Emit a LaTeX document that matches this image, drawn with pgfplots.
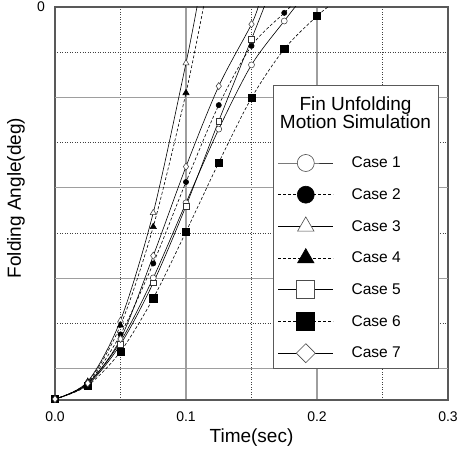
\documentclass[border=0pt]{standalone}
\usepackage{pgfplots}
\pgfplotsset{compat=1.18}
\usepackage{fontspec}
\setmainfont{Liberation Sans}
\begin{document}
\begin{tikzpicture}
\begin{axis}[
  width=393pt, height=393pt, scale only axis,
  xmin=0, xmax=0.3, ymin=-86.9, ymax=0,
  xtick={0,0.1,0.2,0.3}, xticklabels={0.0,0.1,0.2,0.3},
  minor xtick={0.05,0.15,0.25},
  ytick={0}, yticklabels={0},
  extra y ticks={-20,-40,-60,-80}, extra y tick labels={},
  extra y tick style={grid=major},
  minor ytick={-10,-30,-50,-70},
  grid=both,
  major grid style={draw=black!38, line width=1.2pt},
  minor grid style={draw=black!75, line width=0.5pt, dotted},
  major tick length=0pt, minor tick length=0pt,
  axis line style={draw=black!65, line width=1.3pt},
  tick label style={font=\fontsize{14}{14}\selectfont},
  xticklabel style={anchor=base, inner sep=0pt, yshift=-21pt},
  yticklabel style={anchor=base east, inner sep=0pt, xshift=-10pt, yshift=-5pt},
  xlabel={Time(sec)},
  ylabel={Folding Angle(deg)},
  every axis x label/.style={at={(rel axis cs:0.5,-0.1069)}, anchor=base, font=\fontsize{19}{19}\selectfont},
  every axis y label/.style={at={(rel axis cs:-0.0992,0.514)}, rotate=90, anchor=center, font=\fontsize{19}{19}\selectfont},
  legend cell align=left,
  legend style={at={(rel axis cs:0.5674,0.6434)}, anchor=north west, draw=none, fill=none,
    inner sep=0pt, outer sep=0pt, row sep=0pt, column sep=18pt,
    font=\fontsize{15.5}{15.5}\selectfont, nodes={inner sep=0pt}},
  legend image code/.code={
    \path[draw=none, fill=none] (0pt,-15.85pt) rectangle (55pt,15.85pt);
    \draw[mark repeat=2, mark phase=2, #1] plot coordinates {(0pt,0pt) (27.5pt,0pt) (55pt,0pt)};
  },
]
% Case 1
\addplot[forget plot, black, line width=0.6pt, smooth, mark=*, mark size=3pt,
  mark options={solid, fill=white, draw=black!80, line width=0.5pt}, mark indices={1,2,3,4,5,6,7,8}]
  coordinates {(0,-86.7) (0.025,-83.3) (0.05,-74.0) (0.075,-59.9) (0.1,-43.3) (0.125,-27.0) (0.15,-12.8) (0.175,-3.1) (0.186,1)};
% Case 2
\addplot[forget plot, black, line width=0.6pt, dash pattern=on 3pt off 2pt, smooth, mark=*, mark size=2.6pt,
  mark options={solid, fill=black}, mark indices={1,2,3,4,5,6,7,8}]
  coordinates {(0,-86.7) (0.025,-83.1) (0.05,-72.4) (0.075,-56.7) (0.1,-38.7) (0.125,-21.7) (0.15,-8.6) (0.175,-1.3) (0.183,1)};
% Case 3
\addplot[forget plot, black, line width=0.6pt, smooth, mark=triangle*, mark size=3.5pt,
  mark options={solid, fill=white, draw=black!80, line width=0.5pt}, mark indices={1,2,3,4,5}]
  coordinates {(0,-86.7) (0.025,-82.8) (0.05,-69.3) (0.075,-45.5) (0.1,-12.4) (0.109,1)};
% Case 4
\addplot[forget plot, black, line width=0.6pt, dash pattern=on 3pt off 2pt, smooth, mark=triangle*, mark size=3.6pt,
  mark options={solid, fill=black}, mark indices={1,2,3,4,5}]
  coordinates {(0,-86.7) (0.025,-82.9) (0.05,-70.4) (0.075,-48.6) (0.1,-19.0) (0.114,1)};
% Case 5
\addplot[forget plot, black, line width=0.6pt, smooth, mark=square*, mark size=2.8pt,
  mark options={solid, fill=white, draw=black!80, line width=0.5pt}, mark indices={1,2,3,4,5,6,7}]
  coordinates {(0,-86.7) (0.025,-83.5) (0.05,-74.6) (0.075,-61.0) (0.1,-44.0) (0.125,-25.2) (0.15,-7.1) (0.161,1)};
% Case 6
\addplot[forget plot, black, line width=0.6pt, dash pattern=on 3pt off 2pt, smooth, mark=square*, mark size=3.6pt,
  mark options={solid, fill=black}, mark indices={1,2,3,4,5,6,7,8,9}]
  coordinates {(0,-86.7) (0.025,-83.7) (0.05,-76.2) (0.075,-64.4) (0.1,-49.7) (0.125,-34.4) (0.15,-20.1) (0.175,-9.3) (0.2,-2.0) (0.213,1)};
% Case 7
\addplot[forget plot, black, line width=0.6pt, smooth, mark=diamond*, mark size=3.6pt,
  mark options={solid, fill=white, draw=black!80, line width=0.5pt}, mark indices={1,2,3,4,5,6,7}]
  coordinates {(0,-86.7) (0.025,-83.2) (0.05,-73.4) (0.075,-55.0) (0.1,-35.3) (0.125,-17.5) (0.15,-3.8) (0.156,1)};

\draw[draw=black!65, line width=1pt, fill=white] (rel axis cs:0.5547,0.0789) rectangle (rel axis cs:0.9746,0.799);
\node[font=\fontsize{19}{19}\selectfont, anchor=base, inner sep=0pt] at (rel axis cs:0.7646,0.7379) {Fin Unfolding};
\node[font=\fontsize{19}{19}\selectfont, anchor=base, inner sep=0pt] at (rel axis cs:0.7646,0.6896) {Motion Simulation};

\addlegendimage{black!80, line width=0.6pt, mark=*, mark size=8.5pt, mark options={solid, fill=white, draw=black!70, line width=0.6pt}}
\addlegendentry{Case 1}
\addlegendimage{black, line width=0.6pt, dash pattern=on 3pt off 2pt, mark=*, mark size=8.5pt, mark options={solid, fill=black}}
\addlegendentry{Case 2}
\addlegendimage{black, line width=0.6pt, mark=triangle*, mark size=9.5pt, mark options={solid, fill=white, draw=black!70, line width=0.6pt}}
\addlegendentry{Case 3}
\addlegendimage{black, line width=0.6pt, dash pattern=on 3pt off 2pt, mark=triangle*, mark size=9.5pt, mark options={solid, fill=black}}
\addlegendentry{Case 4}
\addlegendimage{black, line width=0.6pt, mark=square*, mark size=9pt, mark options={solid, fill=white, draw=black!70, line width=0.6pt}}
\addlegendentry{Case 5}
\addlegendimage{black, line width=0.6pt, dash pattern=on 3pt off 2pt, mark=square*, mark size=9pt, mark options={solid, fill=black}}
\addlegendentry{Case 6}
\addlegendimage{black, line width=0.6pt, mark=diamond*, mark size=9.5pt, mark options={solid, fill=white, draw=black!70, line width=0.6pt, xscale=1.33}}
\addlegendentry{Case 7}

\coordinate (bl) at (rel axis cs:0,0);
\coordinate (tr) at (rel axis cs:1,1);
\end{axis}
\pgfresetboundingbox
\path ([xshift=-55pt,yshift=-49pt]bl) rectangle ([xshift=12pt,yshift=7pt]tr);
\end{tikzpicture}
\end{document}
